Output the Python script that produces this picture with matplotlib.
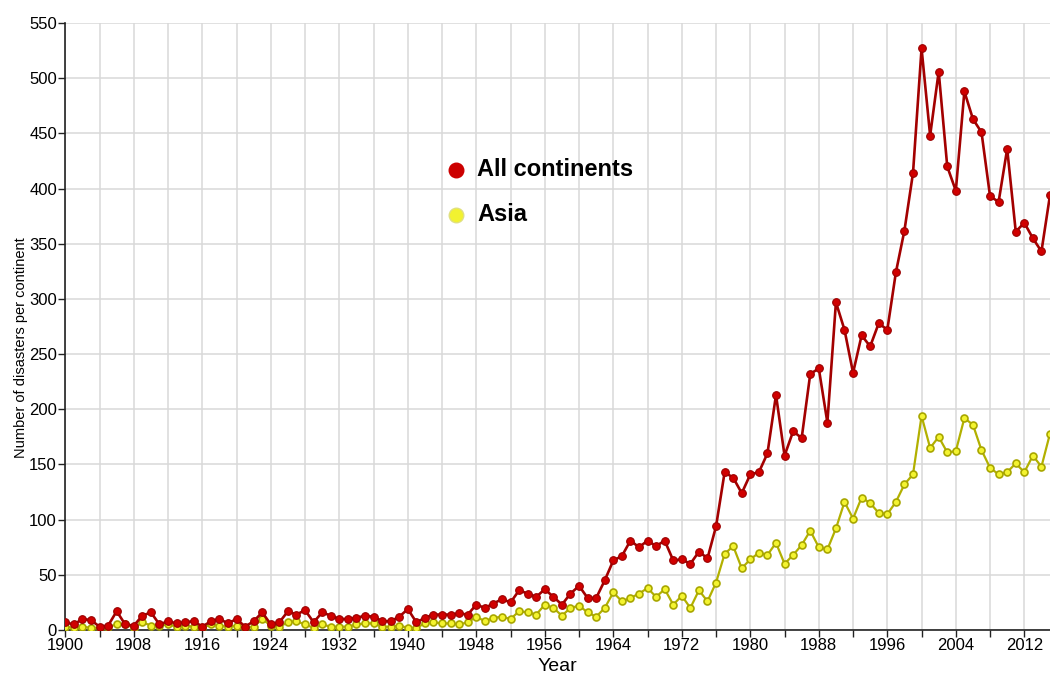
import matplotlib.pyplot as plt
from matplotlib.ticker import MultipleLocator, FuncFormatter

plt.rcParams['font.family'] = ['Liberation Sans', 'DejaVu Sans']

# 年份 1900-2015
years = list(range(1900, 2016))

# 所有大洲的灾害数量
all_continents = [
    7, 5, 10, 9, 3, 4, 17, 5, 4, 13,
    16, 5, 8, 6, 7, 8, 3, 8, 10, 6,
    10, 3, 8, 16, 5, 7, 17, 14, 18, 7,
    16, 13, 10, 10, 11, 13, 12, 8, 8, 12,
    19, 7, 11, 14, 14, 14, 15, 14, 23, 20,
    24, 28, 25, 36, 33, 30, 37, 30, 23, 33,
    40, 29, 29, 45, 63, 67, 81, 75, 81, 76,
    81, 63, 64, 60, 71, 65, 94, 143, 138, 124,
    141, 143, 160, 213, 158, 180, 174, 232, 237, 188,
    297, 272, 233, 267, 257, 278, 272, 324, 362, 414,
    527, 448, 506, 420, 398, 488, 463, 451, 393, 388,
    436, 361, 369, 355, 343, 394,
]

# 亚洲的灾害数量
asia = [
    3, 2, 3, 2, 2, 3, 5, 5, 2, 7,
    4, 4, 5, 3, 4, 3, 2, 5, 4, 3,
    4, 2, 3, 10, 4, 3, 7, 8, 5, 2,
    5, 3, 3, 3, 5, 6, 6, 3, 3, 4,
    2, 2, 6, 7, 6, 6, 5, 7, 12, 8,
    11, 12, 10, 17, 16, 14, 23, 20, 13, 20,
    22, 16, 12, 20, 34, 26, 29, 33, 38, 30,
    37, 23, 31, 20, 36, 26, 43, 69, 76, 56,
    64, 70, 68, 79, 60, 68, 77, 90, 75, 73,
    92, 116, 101, 120, 115, 106, 105, 116, 132, 141,
    194, 165, 175, 161, 162, 192, 186, 163, 147, 141,
    143, 151, 143, 158, 148, 178,
]

fig = plt.figure(figsize=(10.5, 6.77), dpi=100)
ax = fig.add_axes([0.0622, 0.0694, 0.9378, 0.8966])

ax.plot(years, all_continents, color='#a30000', lw=1.9, marker='o', ms=5.5,
        mfc='#d00000', mec='#9a0000', mew=0.8, zorder=4)
ax.plot(years, asia, color='#b2b000', lw=1.6, marker='o', ms=5,
        mfc='#f4f430', mec='#a8a600', mew=1.2, zorder=3)

ax.set_xlim(1900, 2015)
ax.set_ylim(0, 550)

ax.xaxis.set_major_locator(MultipleLocator(4))
ax.xaxis.set_major_formatter(FuncFormatter(lambda v, p: '%d' % v if int(round(v)) % 8 == 4 else ''))
ax.yaxis.set_major_locator(MultipleLocator(50))
ax.grid(True, color='#d9d9d9', lw=1.1, zorder=0)
ax.set_axisbelow(True)

for s in ['top', 'right']:
    ax.spines[s].set_visible(False)
for s in ['left', 'bottom']:
    ax.spines[s].set_color('#222222')
    ax.spines[s].set_linewidth(1.2)
ax.tick_params(axis='both', length=5, width=1, color='#222222', labelsize=12, pad=1)

ax.set_xlabel('Year', fontsize=14, labelpad=3)
ax.set_ylabel('Number of disasters per continent', fontsize=10.5)
ax.yaxis.set_label_coords(-0.038, 0.465)

# 图例
ax.scatter([0.3968], [0.758], s=110, color='#cc0000', transform=ax.transAxes, zorder=5)
ax.scatter([0.3968], [0.684], s=110, color='#f2f230', edgecolors='#e0e080', transform=ax.transAxes, zorder=5)
ax.text(0.418, 0.758, 'All continents', transform=ax.transAxes, fontsize=17,
        fontweight='bold', va='center', ha='left')
ax.text(0.418, 0.684, 'Asia', transform=ax.transAxes, fontsize=17,
        fontweight='bold', va='center', ha='left')

fig.savefig('out.png', dpi=100)
